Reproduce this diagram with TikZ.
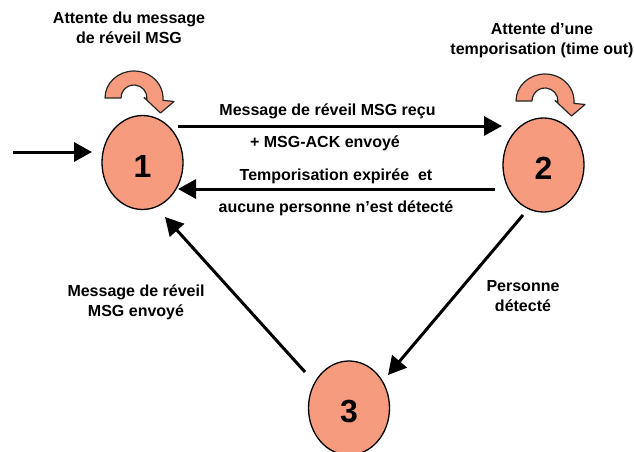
\documentclass[tikz,border=0pt]{standalone}
\usepackage{fontspec}
\setmainfont{Liberation Sans}
\usetikzlibrary{arrows.meta,shapes.geometric}
\definecolor{salmon}{HTML}{F79B7F}
\begin{document}
\begin{tikzpicture}[x=1pt,y=-1pt,
  state/.style={ellipse,draw=black,line width=1.3pt,fill=salmon,minimum width=81pt,minimum height=94pt,inner sep=0pt,font=\fontsize{32}{32}\selectfont\bfseries,text height=29pt,text depth=0pt},
  lbl/.style={font=\fontsize{16}{20}\selectfont\bfseries,inner sep=0pt,align=center},
  conn/.style={line width=3pt,-{Triangle[length=18pt,width=19pt]}},
  loopshape/.style={fill=salmon,draw=black!85,line width=1.2pt,line join=round},
  selfloop/.pic={\path[loopshape] (-29,0) arc[start angle=180,end angle=365,x radius=29,y radius=27] -- (40,3.5) -- (26.5,15) -- (10,-0.5) -- (365:13) arc[start angle=365,end angle=180,radius=13] -- cycle;}
]
\fill[white] (0,0) rectangle (634,452);
\useasboundingbox (0,0) rectangle (634,452);

\node[state] (n1) at (142.5,162.5) {1};
\node[state] (n2) at (543.5,165) {2};
\node[state] (n3) at (349,408) {3};

\pic (l1) at (134,98) {selfloop};
\pic (l2) at (545,101) {selfloop};

\coordinate (init) at (13,152);
\draw[conn] (init) -- ([xshift=-50.5pt,yshift=10.5pt]n1.center);
\draw[conn] ([xshift=35.5pt,yshift=36.5pt]n1.center) -- ([xshift=-41.5pt,yshift=39pt]n2.center);
\draw[conn] ([xshift=-48.5pt,yshift=-24pt]n2.center) -- ([xshift=35.5pt,yshift=-26.5pt]n1.center);
\draw[conn] ([xshift=-20.5pt,yshift=-50pt]n2.center) -- ([xshift=39pt,yshift=33pt]n3.center);
\draw[conn] ([xshift=-44pt,yshift=36pt]n3.center) -- ([xshift=22.5pt,yshift=-54.5pt]n1.center);

\node[lbl,anchor=north] (t1) at (129,12) {Attente du message\\de réveil MSG};
\node[lbl,anchor=north] (t2) at (542,22.5) {Attente d’une\\temporisation (time out)};
\node[lbl,anchor=base] (a) at (327.5,115) {Message de réveil MSG reçu};
\node[lbl,anchor=base] (b) at (325,147) {+ MSG-ACK envoyé};
\node[lbl,anchor=base] (c) at (336,180) {Temporisation expirée~ et};
\node[lbl,anchor=base] (d) at (336,212) {aucune personne n’est détecté};
\node[lbl,anchor=north] (e) at (136,285) {Message de réveil\\MSG envoyé};
\node[lbl,anchor=north] (f) at (523,280) {Personne\\détecté};
\end{tikzpicture}
\end{document}
